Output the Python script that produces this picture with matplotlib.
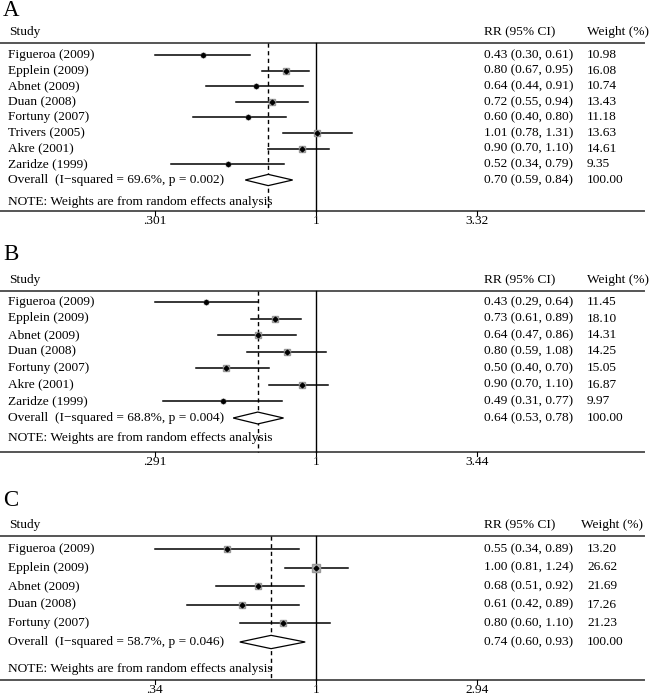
import numpy as np
import matplotlib
matplotlib.use("Agg")
import matplotlib.pyplot as plt
from matplotlib.transforms import blended_transform_factory

plt.rcParams["font.family"] = ["Liberation Serif", "DejaVu Serif"]

# --- data ---
studies_a = ["Figueroa (2009)", "Epplein (2009)", "Abnet (2009)", "Duan (2008)",
             "Fortuny (2007)", "Trivers (2005)", "Akre (2001)", "Zaridze (1999)"]
rr_a = [0.43, 0.80, 0.64, 0.72, 0.60, 1.01, 0.90, 0.52]
lo_a = [0.30, 0.67, 0.44, 0.55, 0.40, 0.78, 0.70, 0.34]
hi_a = [0.61, 0.95, 0.91, 0.94, 0.80, 1.31, 1.10, 0.79]
w_a = [10.98, 16.08, 10.74, 13.43, 11.18, 13.63, 14.61, 9.35]
overall_a = [0.70, 0.59, 0.84]
het_a = ["69.6%", "0.002"]
ticks_a = [".301", "1", "3.32"]

studies_b = ["Figueroa (2009)", "Epplein (2009)", "Abnet (2009)", "Duan (2008)",
             "Fortuny (2007)", "Akre (2001)", "Zaridze (1999)"]
rr_b = [0.43, 0.73, 0.64, 0.80, 0.50, 0.90, 0.49]
lo_b = [0.29, 0.61, 0.47, 0.59, 0.40, 0.70, 0.31]
hi_b = [0.64, 0.89, 0.86, 1.08, 0.70, 1.10, 0.77]
w_b = [11.45, 18.10, 14.31, 14.25, 15.05, 16.87, 9.97]
overall_b = [0.64, 0.53, 0.78]
het_b = ["68.8%", "0.004"]
ticks_b = [".291", "1", "3.44"]

studies_c = ["Figueroa (2009)", "Epplein (2009)", "Abnet (2009)", "Duan (2008)",
             "Fortuny (2007)"]
rr_c = [0.55, 1.00, 0.68, 0.61, 0.80]
lo_c = [0.34, 0.81, 0.51, 0.42, 0.60]
hi_c = [0.89, 1.24, 0.92, 0.89, 1.10]
w_c = [13.20, 26.62, 21.69, 17.26, 21.23]
overall_c = [0.74, 0.60, 0.93]
het_c = ["58.7%", "0.046"]
ticks_c = [".34", "1", "2.94"]

W, H = 650, 695
FS = 9.6


def panel(fig, letter, band, lay, studies, rr, lo, hi, w, overall, het, ticks):
    """One Stata-style forest panel; y is in figure pixels (top = 0)."""
    y0, y1 = band
    ax = fig.add_axes([0, 1 - y1 / H, 1, (y1 - y0) / H])
    ax.set_xscale("log")
    tv = [float(t) for t in ticks]
    k = (np.log(tv[2]) - np.log(tv[0])) / (477 - 155)       # ln units per pixel
    ax.set_xlim(np.exp(np.log(tv[0]) - 155 * k), np.exp(np.log(tv[0]) + (W - 155) * k))
    ax.set_ylim(y1, y0)
    ax.axis("off")
    tr = blended_transform_factory(ax.transAxes, ax.transData)

    top, row0, step, y_ov, y_note, bot = lay
    ys = row0 + step * np.arange(len(studies))

    ax.text(3 / W, lay[0] - 32 if letter == "A" else top - 36, letter, transform=tr,
            fontsize=16.5, va="center", ha="left")
    ax.text(9 / W, top - 11, "Study", transform=tr, fontsize=FS, va="center")
    ax.text(484 / W, top - 11, "RR (95% CI)", transform=tr, fontsize=FS, va="center")
    ax.text(587 / W if letter != "C" else 581 / W, top - 11, "Weight (%)",
            transform=tr, fontsize=FS, va="center")

    ax.plot([0, 644 / W], [top, top], transform=tr, color="#555555", lw=1.4)
    ax.plot([0, 644 / W], [bot, bot], transform=tr, color="#555555", lw=1.4)
    ax.plot([1, 1], [top, bot], color="black", lw=1.0)
    ax.plot([overall[0]] * 2, [top, bot], color="black", lw=1.0, ls=(0, (3, 2.5)))

    for y, s, r, l, h, wt in zip(ys, studies, rr, lo, hi, w):
        ax.plot([l, h], [y, y], color="black", lw=1.1)
        ax.plot(r, y, marker="s", ms=1.0 * np.sqrt(wt), color="#b3b3b3", mec="#999999")
        ax.plot(r, y, marker="D", ms=2.4, color="black")
        ax.text(8 / W, y, s, transform=tr, fontsize=FS, va="center")
        ax.text(484 / W, y, f"{r:.2f} ({l:.2f}, {h:.2f})", transform=tr, fontsize=FS, va="center")
        ax.text(587 / W, y, f"{wt:.2f}", transform=tr, fontsize=FS, va="center")

    # overall diamond
    e, l, h = overall
    d = step * 0.36
    ax.fill([l, e, h, e], [y_ov, y_ov - d, y_ov, y_ov + d], facecolor="white",
            edgecolor="black", lw=0.9, zorder=3)
    ax.text(8 / W, y_ov, f"Overall  (I\u2212squared = {het[0]}, p = {het[1]})",
            transform=tr, fontsize=FS, va="center")
    ax.text(484 / W, y_ov, f"{e:.2f} ({l:.2f}, {h:.2f})", transform=tr, fontsize=FS, va="center")
    ax.text(587 / W, y_ov, "100.00", transform=tr, fontsize=FS, va="center")
    ax.text(8 / W, y_note, "NOTE: Weights are from random effects analysis",
            transform=tr, fontsize=FS, va="center")

    for t, v in zip(ticks, tv):
        ax.plot([v, v], [bot, bot + 4], color="black", lw=0.8)
        ax.text(v, bot + 10, t, fontsize=FS, ha="center", va="center")
    return ax


fig = plt.figure(figsize=(W / 100, H / 100), dpi=100)
panel(fig, "A", (0, 232), (43, 55, 15.6, 180, 202, 211),
      studies_a, rr_a, lo_a, hi_a, w_a, overall_a, het_a, ticks_a)
panel(fig, "B", (232, 472), (291, 302, 16.5, 418, 438, 452),
      studies_b, rr_b, lo_b, hi_b, w_b, overall_b, het_b, ticks_b)
panel(fig, "C", (472, 695), (536, 549, 18.5, 642, 669, 680),
      studies_c, rr_c, lo_c, hi_c, w_c, overall_c, het_c, ticks_c)
fig.savefig("out.png", dpi=100)
